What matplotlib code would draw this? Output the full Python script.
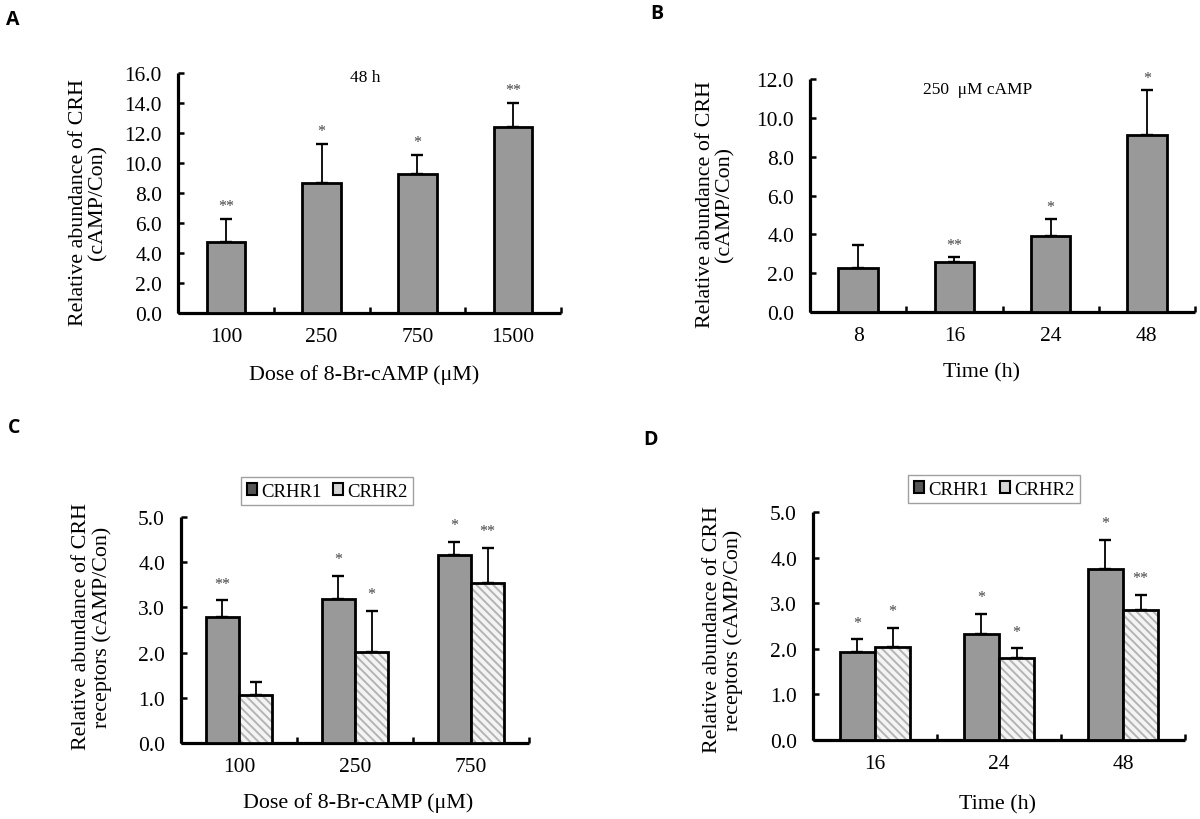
import matplotlib
matplotlib.use("Agg")
import matplotlib.pyplot as plt
from matplotlib.patches import Patch
import numpy as np

plt.rcParams['font.family'] = ['Liberation Serif', 'DejaVu Serif']
plt.rcParams['hatch.linewidth'] = 1.4

# ---------------- data ----------------
a_cats = ["100", "250", "750", "1500"]
a_vals = [4.75, 8.65, 9.25, 12.4]
a_errs = [1.55, 2.65, 1.30, 1.60]
a_sig = ["**", "*", "*", "**"]

b_cats = ["8", "16", "24", "48"]
b_vals = [2.25, 2.60, 3.90, 9.10]
b_errs = [1.20, 0.22, 0.88, 2.33]
b_sig = ["", "**", "*", "*"]

c_cats = ["100", "250", "750"]
c_r1 = [2.78, 3.19, 4.15]
c_r1_err = [0.38, 0.51, 0.30]
c_r2 = [1.07, 2.02, 3.54]
c_r2_err = [0.28, 0.90, 0.78]
c_r1_sig = ["**", "*", "*"]
c_r2_sig = ["", "*", "**"]

d_cats = ["16", "24", "48"]
d_r1 = [1.94, 2.32, 3.74]
d_r1_err = [0.27, 0.45, 0.65]
d_r2 = [2.05, 1.80, 2.84]
d_r2_err = [0.41, 0.21, 0.34]
d_r1_sig = ["*", "*", "*"]
d_r2_sig = ["*", "*", "**"]

series_names = ["CRHR1", "CRHR2"]

# ---------------- style ----------------
GRAY = "#999999"
HATCH_FACE = "#f4f4f4"
HATCH_COL = "#b4b4b4"
STAR_COL = "#444444"
TICK_FS = 15.5
LAB_FS = 15.8
SPINE_W = 2.3

W, H = 1200, 820
fig = plt.figure(figsize=(W / 100, H / 100), dpi=100)


def px_axes(l, r, t, b):
    return fig.add_axes([l / W, 1 - b / H, (r - l) / W, (b - t) / H])


def style_axes(ax, ncat, ymax, ystep, cats):
    ax.set_xlim(-0.5, ncat - 0.5)
    ax.set_ylim(0, ymax)
    for s in ["top", "right"]:
        ax.spines[s].set_visible(False)
    for s in ["left", "bottom"]:
        ax.spines[s].set_linewidth(SPINE_W)
        ax.spines[s].set_capstyle("butt")
    ax.set_yticks(np.arange(0, ymax + 0.001, ystep))
    ax.set_yticklabels([f"{v:.1f}" for v in np.arange(0, ymax + 0.001, ystep)])
    ax.tick_params(axis="y", direction="in", length=4, width=1.8,
                   labelsize=TICK_FS, pad=11.5)
    ax.set_xticks(np.arange(-0.5, ncat, 1.0))
    ax.set_xticklabels([])
    ax.set_xticks(np.arange(ncat), minor=True)
    ax.set_xticklabels(cats, minor=True)
    ax.tick_params(axis="x", which="major", direction="in", length=4, width=1.8)
    ax.tick_params(axis="x", which="minor", length=0, labelsize=TICK_FS, pad=10)
    ax.patch.set_alpha(0)


def stars(ax, xs, tops, sigs, off):
    for x, t, s in zip(xs, tops, sigs):
        if s:
            ax.annotate(s, xy=(x, t), xytext=(0, off), textcoords="offset points",
                        ha="center", va="center", fontsize=11.5, color=STAR_COL)


def solid_bars(ax, xs, vals, errs, width):
    ax.bar(xs, vals, width=width, color=GRAY, edgecolor="black",
           linewidth=2.0, zorder=3)
    ax.errorbar(xs, vals, yerr=[np.zeros(len(vals)), errs], fmt="none",
                ecolor="black", elinewidth=1.3, capsize=4, capthick=1.7, zorder=2)


def hatched_bars(ax, xs, vals, errs, width):
    ax.bar(xs, vals, width=width, color=HATCH_FACE, edgecolor=HATCH_COL,
           hatch="\\\\\\\\", linewidth=0, zorder=3)
    ax.bar(xs, vals, width=width, facecolor="none", edgecolor="black",
           linewidth=2.0, zorder=4)
    ax.errorbar(xs, vals, yerr=[np.zeros(len(vals)), errs], fmt="none",
                ecolor="black", elinewidth=1.3, capsize=4, capthick=1.7, zorder=2)


def ylabel(x, y, text):
    fig.text(x / W, 1 - y / H, text, rotation=90, ha="center", va="center",
             multialignment="center", fontsize=LAB_FS, linespacing=1.05)


def xlabel(ax, text, xf, yf):
    ax.set_xlabel(text, fontsize=LAB_FS)
    ax.xaxis.set_label_coords(xf, yf)
    ax.xaxis.label.set_va("center")


def panel_letter(x, y, s):
    fig.text(x / W, 1 - y / H, s, fontsize=14, fontweight="bold",
             family=["Open Sans", "DejaVu Sans"], ha="left", va="center")


# ---------------- Panel A ----------------
axA = px_axes(178, 561, 74, 314)
xa = np.arange(len(a_cats))
solid_bars(axA, xa, a_vals, a_errs, 0.4)
style_axes(axA, len(a_cats), 16, 2, a_cats)
stars(axA, xa, np.add(a_vals, a_errs), a_sig, 9)
axA.text(0.488, 0.983, "48 h", transform=axA.transAxes, ha="center",
         va="center", fontsize=12.5)
xlabel(axA, "Dose of 8-Br-cAMP (\u03bcM)", 0.486, -0.254)
ylabel(88, 203, "Relative abundance of CRH\n(cAMP/Con)")
panel_letter(6, 20, "A")

# ---------------- Panel B ----------------
axB = px_axes(810, 1195, 80, 313)
xb = np.arange(len(b_cats))
solid_bars(axB, xb, b_vals, b_errs, 0.41)
style_axes(axB, len(b_cats), 12, 2, b_cats)
stars(axB, xb, np.add(b_vals, b_errs), b_sig, 9)
axB.text(0.436, 0.957, "250  \u03bcM cAMP", transform=axB.transAxes,
         ha="center", va="center", fontsize=12.5)
xlabel(axB, "Time (h)", 0.446, -0.258)
ylabel(715, 205, "Relative abundance of CRH\n(cAMP/Con)")
panel_letter(650, 14, "B")

# ---------------- Panel C ----------------
axC = px_axes(181, 529, 518, 744)
xc = np.arange(len(c_cats))
bw = 0.285
solid_bars(axC, xc - bw / 2, c_r1, c_r1_err, bw)
hatched_bars(axC, xc + bw / 2, c_r2, c_r2_err, bw)
style_axes(axC, len(c_cats), 5, 1, c_cats)
stars(axC, xc - bw / 2, np.add(c_r1, c_r1_err), c_r1_sig, 12)
stars(axC, xc + bw / 2, np.add(c_r2, c_r2_err), c_r2_sig, 12)
xlabel(axC, "Dose of 8-Br-cAMP (\u03bcM)", 0.51, -0.261)
ylabel(92, 627, "Relative abundance of CRH\nreceptors (cAMP/Con)")
panel_letter(8, 428, "C")

handles = [Patch(facecolor="#555555", edgecolor="black", linewidth=1.5),
           Patch(facecolor="#d4d4d4", edgecolor="black", linewidth=1.5)]
legC = axC.legend(handles, series_names, loc="center", bbox_to_anchor=(0.42, 1.115),
                  ncol=2, fontsize=13.5, frameon=True, fancybox=False,
                  handlelength=0.55, handleheight=0.55, handletextpad=0.2,
                  columnspacing=0.6, borderpad=0.3, borderaxespad=0)
legC.get_frame().set_edgecolor("#888888")
legC.get_frame().set_linewidth(1.0)

# ---------------- Panel D ----------------
axD = px_axes(813, 1185, 513, 741)
xd = np.arange(len(d_cats))
solid_bars(axD, xd - bw / 2, d_r1, d_r1_err, bw)
hatched_bars(axD, xd + bw / 2, d_r2, d_r2_err, bw)
style_axes(axD, len(d_cats), 5, 1, d_cats)
stars(axD, xd - bw / 2, np.add(d_r1, d_r1_err), d_r1_sig, 12)
stars(axD, xd + bw / 2, np.add(d_r2, d_r2_err), d_r2_sig, 12)
xlabel(axD, "Time (h)", 0.497, -0.281)
ylabel(723, 630, "Relative abundance of CRH\nreceptors (cAMP/Con)")
panel_letter(643, 440, "D")

handles = [Patch(facecolor="#555555", edgecolor="black", linewidth=1.5),
           Patch(facecolor="#d4d4d4", edgecolor="black", linewidth=1.5)]
legD = axD.legend(handles, series_names, loc="center", bbox_to_anchor=(0.487, 1.10),
                  ncol=2, fontsize=13.5, frameon=True, fancybox=False,
                  handlelength=0.55, handleheight=0.55, handletextpad=0.2,
                  columnspacing=0.6, borderpad=0.3, borderaxespad=0)
legD.get_frame().set_edgecolor("#888888")
legD.get_frame().set_linewidth(1.0)

fig.savefig("out.png", dpi=100, facecolor="white")
